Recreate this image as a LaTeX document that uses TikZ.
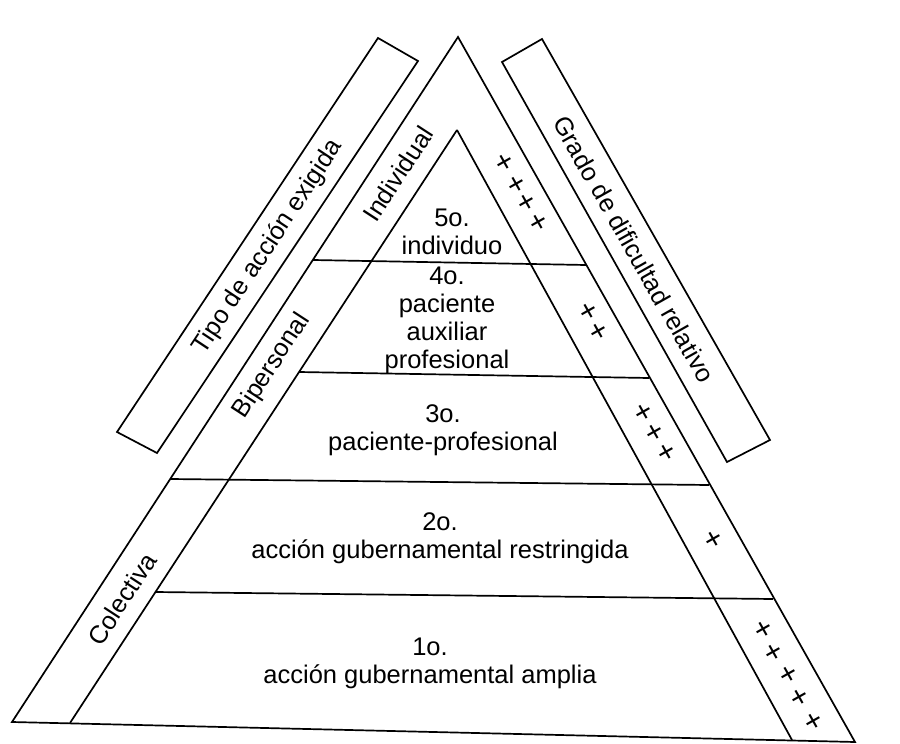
\documentclass[tikz,border=0pt]{standalone}
\usepackage{fontspec}
\setmainfont{Liberation Sans}
\begin{document}
\begin{tikzpicture}[x=1pt,y=-1pt,
  edge/.style={line width=1.7pt,line join=miter},
  lvl/.style={align=center,inner sep=0pt,font=\fontsize{25.5}{28}\selectfont},
  side/.style={inner sep=0pt,font=\fontsize{25.3}{28}\selectfont},
  plus/.style={inner sep=0pt,font=\fontsize{30}{30}\selectfont,rotate=-60.6}]
\useasboundingbox[fill=white] (0,0) rectangle (900,744);
% outer triangle
\coordinate (OA) at (458,37);
\coordinate (OL) at (12,722);
\coordinate (OR) at (855,742);
% inner triangle
\coordinate (IA) at (457,130);
\coordinate (IL) at (70,723);
\coordinate (IR) at (792,740);
% level lines
\coordinate (h1l) at (313,260); \coordinate (h1r) at (586,265);
\coordinate (h2l) at (299,372); \coordinate (h2r) at (649,378);
\coordinate (h3l) at (170,479); \coordinate (h3r) at (709,485);
\coordinate (h4l) at (155,592); \coordinate (h4r) at (773,599);
% side boxes
\coordinate (lb1) at (378,38); \coordinate (lb2) at (418,61);
\coordinate (lb3) at (157,453); \coordinate (lb4) at (117,432);
\coordinate (rb1) at (542,39); \coordinate (rb2) at (770,440);
\coordinate (rb3) at (727,462); \coordinate (rb4) at (502,62);

\draw[edge] (OA) -- (OL) -- (OR) -- cycle;
\draw[edge] (IA) -- (IL);
\draw[edge] (IA) -- (IR);
\draw[edge] (h1l) -- (h1r);
\draw[edge] (h2l) -- (h2r);
\draw[edge] (h3l) -- (h3r);
\draw[edge] (h4l) -- (h4r);
\draw[edge] (lb1) -- (lb2) -- (lb3) -- (lb4) -- cycle;
\draw[edge] (rb1) -- (rb2) -- (rb3) -- (rb4) -- cycle;

% level texts
\node[lvl] (L5) at (452,232) {5o.\\individuo};
\node[lvl] (L4) at (447,320) {4o.\\paciente\\auxiliar\\profesional};
\node[lvl] (L3) at (443,430) {3o.\\paciente-profesional};
\node[lvl] (L2) at (440,538) {2o.\\acción gubernamental restringida};
\node[lvl] (L1) at (430,663) {1o.\\acción gubernamental amplia};

% side labels
\node[side,rotate=56.5] (tipo) at (268,247) {Tipo de acción exigida};
\node[side,rotate=56.9] (indiv) at (398,174) {Individual};
\node[side,rotate=56.9] (biper) at (272,366) {Bipersonal};
\node[side,rotate=56.9] (colec) at (122,599) {Colectiva};
\node[side,rotate=-60.5] (grado) at (634,249) {Grado de dificultad relativo};

% plus signs
\node[plus] (p5a) at (503,163) {+};
\node[plus] (p5b) at (515,185) {+};
\node[plus] (p5c) at (525,203) {+};
\node[plus] (p5d) at (537,223) {+};
\node[plus] (p4a) at (587,312) {+};
\node[plus] (p4b) at (597,332) {+};
\node[plus] (p3a) at (642,413) {+};
\node[plus] (p3b) at (653,433) {+};
\node[plus] (p3c) at (665,453) {+};
\node[plus] (p2a) at (712,540) {+};
\node[plus] (p1a) at (762,630) {+};
\node[plus] (p1b) at (772,653) {+};
\node[plus] (p1c) at (787,675) {+};
\node[plus] (p1d) at (798,698) {+};
\node[plus] (p1e) at (812,722) {+};
\end{tikzpicture}
\end{document}
